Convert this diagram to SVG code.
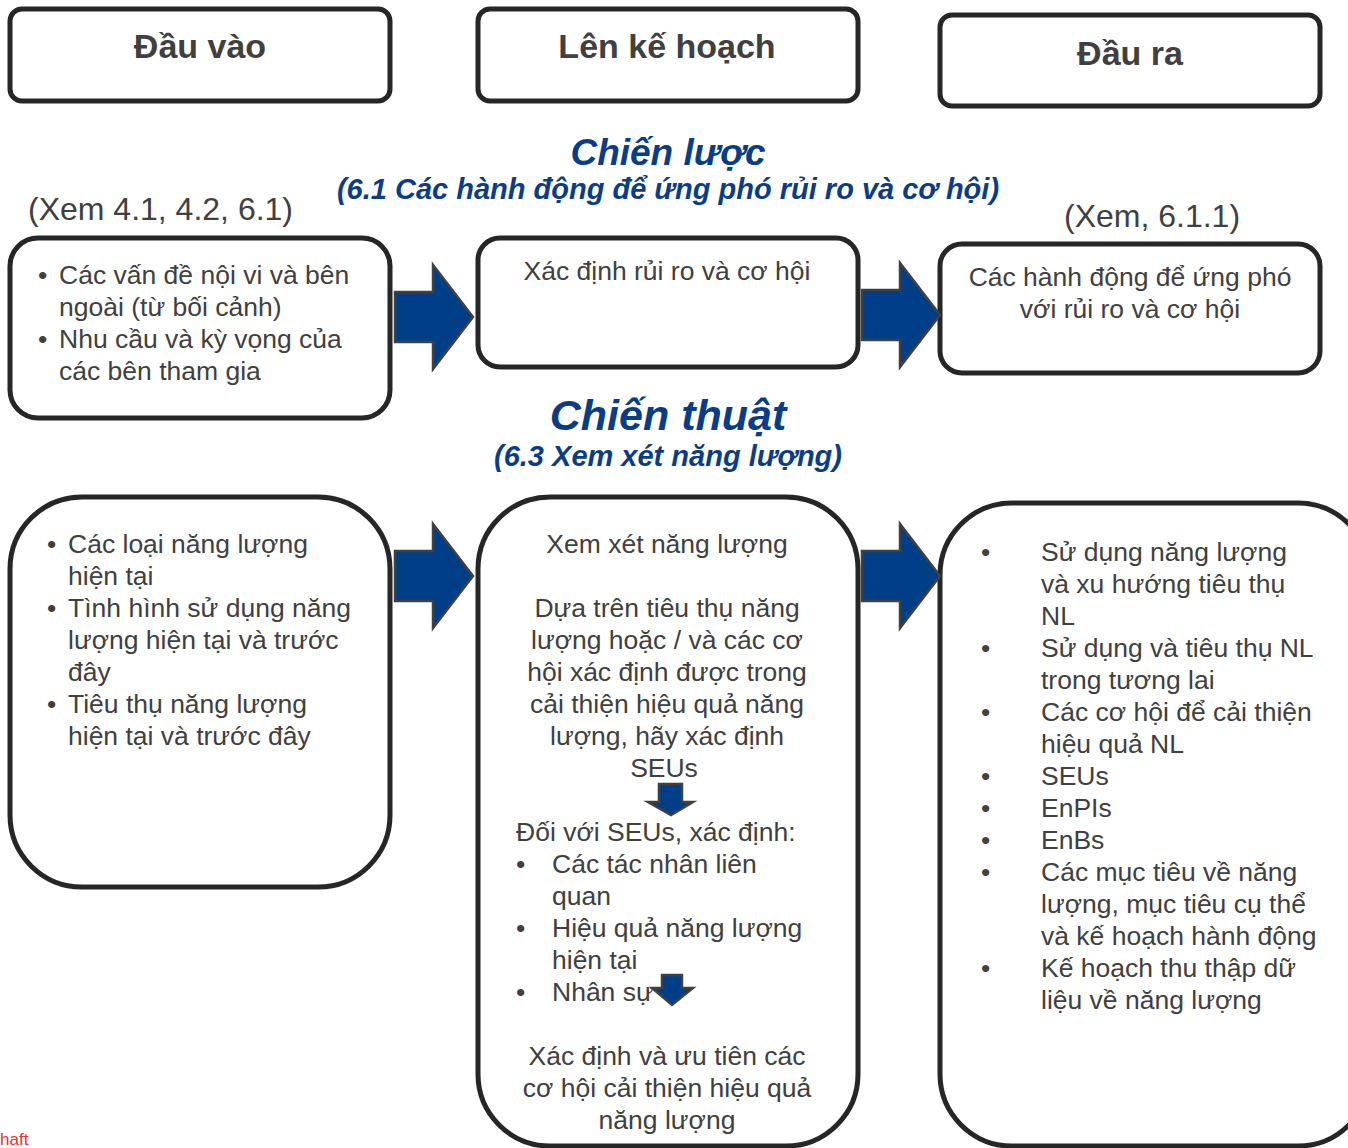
<svg xmlns="http://www.w3.org/2000/svg" width="1348" height="1148" viewBox="0 0 1348 1148">
<style>
.box{fill:#fff;stroke:#262626;stroke-width:5}
.hdr{font-family:"Liberation Sans",Arial,sans-serif;font-weight:bold;font-size:34px;fill:#404040;text-anchor:middle}
.t{font-family:"Liberation Sans",Arial,sans-serif;font-size:26.5px;fill:#404040}
.ref{font-family:"Liberation Sans",Arial,sans-serif;font-size:32px;fill:#404040}
.c{text-anchor:middle}
.ttl{font-family:"Liberation Sans",Arial,sans-serif;font-weight:bold;font-style:italic;fill:#0a3d85;text-anchor:middle}
.arr{fill:#003f87;stroke:#404040;stroke-width:2.5;stroke-linejoin:miter}
</style>
<defs>
<path id="rarrow" class="arr" d="M0,0 H38 V-27 L78,25 L38,77 V50 H0 Z"/>
<path id="darrow" class="arr" d="M0,0 H23 V18 H34 L12,31 L-11,18 H0 Z"/>
</defs>
<rect width="1348" height="1148" fill="#fff"/>

<g id="hdr-input"><rect class="box" x="10" y="9" width="380" height="92" rx="12"/><text class="hdr" x="200" y="58">Đầu vào</text></g>
<g id="hdr-plan"><rect class="box" x="478" y="9" width="380" height="92" rx="12"/><text class="hdr" x="667" y="58">Lên kế hoạch</text></g>
<g id="hdr-output"><rect class="box" x="940" y="15" width="380" height="91" rx="12"/><text class="hdr" x="1130" y="65">Đầu ra</text></g>

<g id="title-strategy">
<text class="ttl" x="668" y="165" font-size="37">Chiến lược</text>
<text class="ttl" x="668" y="199" font-size="29">(6.1 Các hành động để ứng phó rủi ro và cơ hội)</text>
</g>
<text class="ref" x="28" y="220">(Xem 4.1, 4.2, 6.1)</text>
<text class="ref" x="1064" y="227">(Xem, 6.1.1)</text>

<g id="s-input"><rect class="box" x="10" y="238" width="380" height="180" rx="28"/>
<text class="t"><tspan x="38" y="284">•</tspan><tspan x="59" y="284">Các vấn đề nội vi và bên</tspan><tspan x="59" y="316">ngoài (từ bối cảnh)</tspan><tspan x="38" y="348">•</tspan><tspan x="59" y="348">Nhu cầu và kỳ vọng của</tspan><tspan x="59" y="380">các bên tham gia</tspan></text>
</g>
<g id="s-plan"><rect class="box" x="478" y="238" width="380" height="129" rx="22"/>
<text class="t c" x="667" y="280">Xác định rủi ro và cơ hội</text></g>
<g id="s-output"><rect class="box" x="940" y="244" width="380" height="129" rx="22"/>
<text class="t c"><tspan x="1130" y="286">Các hành động để ứng phó</tspan><tspan x="1130" y="318">với rủi ro và cơ hội</tspan></text></g>

<g id="title-tactic">
<text class="ttl" x="668" y="430" font-size="43">Chiến thuật</text>
<text class="ttl" x="668" y="466" font-size="29">(6.3 Xem xét năng lượng)</text>
</g>

<g id="t-input"><rect class="box" x="10" y="497" width="380" height="390" rx="72"/>
<text class="t"><tspan x="47" y="553">•</tspan><tspan x="68" y="553">Các loại năng lượng</tspan><tspan x="68" y="585">hiện tại</tspan><tspan x="47" y="617">•</tspan><tspan x="68" y="617">Tình hình sử dụng năng</tspan><tspan x="68" y="649">lượng hiện tại và trước</tspan><tspan x="68" y="681">đây</tspan><tspan x="47" y="713">•</tspan><tspan x="68" y="713">Tiêu thụ năng lượng</tspan><tspan x="68" y="745">hiện tại và trước đây</tspan></text>
</g>

<g id="t-plan"><rect class="box" x="478" y="497" width="380" height="649" rx="72"/>
<text class="t c"><tspan x="667" y="553">Xem xét năng lượng</tspan><tspan x="667" y="617">Dựa trên tiêu thụ năng</tspan><tspan x="667" y="649">lượng hoặc / và các cơ</tspan><tspan x="667" y="681">hội xác định được trong</tspan><tspan x="667" y="713">cải thiện hiệu quả năng</tspan><tspan x="667" y="745">lượng, hãy xác định</tspan><tspan x="664" y="777">SEUs</tspan></text>
<text class="t"><tspan x="516" y="841">Đối với SEUs, xác định:</tspan><tspan x="516" y="873">•</tspan><tspan x="552" y="873">Các tác nhân liên</tspan><tspan x="552" y="905">quan</tspan><tspan x="516" y="937">•</tspan><tspan x="552" y="937">Hiệu quả năng lượng</tspan><tspan x="552" y="969">hiện tại</tspan><tspan x="516" y="1001">•</tspan><tspan x="552" y="1001">Nhân sự</tspan></text>
<text class="t c"><tspan x="667" y="1065">Xác định và ưu tiên các</tspan><tspan x="667" y="1097">cơ hội cải thiện hiệu quả</tspan><tspan x="667" y="1129">năng lượng</tspan></text>
</g>

<g id="t-output"><rect class="box" x="940" y="503" width="430" height="643" rx="72"/>
<text class="t"><tspan x="981" y="561">•</tspan><tspan x="1041" y="561">Sử dụng năng lượng</tspan><tspan x="1041" y="593">và xu hướng tiêu thụ</tspan><tspan x="1041" y="625">NL</tspan><tspan x="981" y="657">•</tspan><tspan x="1041" y="657">Sử dụng và tiêu thụ NL</tspan><tspan x="1041" y="689">trong tương lai</tspan><tspan x="981" y="721">•</tspan><tspan x="1041" y="721">Các cơ hội để cải thiện</tspan><tspan x="1041" y="753">hiệu quả NL</tspan><tspan x="981" y="785">•</tspan><tspan x="1041" y="785">SEUs</tspan><tspan x="981" y="817">•</tspan><tspan x="1041" y="817">EnPIs</tspan><tspan x="981" y="849">•</tspan><tspan x="1041" y="849">EnBs</tspan><tspan x="981" y="881">•</tspan><tspan x="1041" y="881">Các mục tiêu về năng</tspan><tspan x="1041" y="913">lượng, mục tiêu cụ thể</tspan><tspan x="1041" y="945">và kế hoạch hành động</tspan><tspan x="981" y="977">•</tspan><tspan x="1041" y="977">Kế hoạch thu thập dữ</tspan><tspan x="1041" y="1009">liệu về năng lượng</tspan></text>
</g>

<g id="connectors">
<use href="#rarrow" x="395" y="292"/>
<use href="#rarrow" x="862" y="290"/>
<use href="#rarrow" x="395" y="551"/>
<use href="#rarrow" x="862" y="551"/>
<use href="#darrow" x="659" y="784"/>
<path class="arr" d="M662,975 H682 V988 H693 L672,1005 L652,988 H662 Z"/>
</g>

<text x="0" y="1145" font-family="'Liberation Sans',Arial,sans-serif" font-size="17" fill="#e53030">haft</text>
</svg>
